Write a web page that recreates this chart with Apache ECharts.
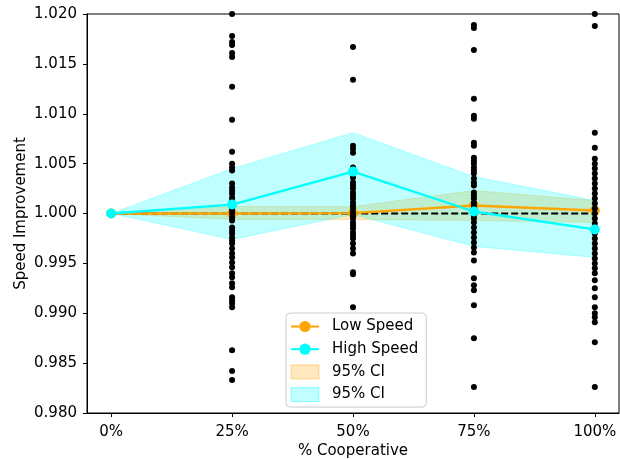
<!DOCTYPE html>
<html>
<head>
<meta charset="utf-8">
<script src="https://cdn.jsdelivr.net/npm/echarts@6/dist/echarts.min.js"></script>
<style>
  html, body { margin: 0; padding: 0; background: #fff; }
  #chart { width: 620px; height: 459px; }
</style>
</head>
<body>
<div id="chart"></div>
<script>
// x categories
const cats = ['0%', '25%', '50%', '75%', '100%'];

// mean lines
const lowSpeed = [1.0000, 1.0000, 1.00003, 1.0008, 1.0003];
const highSpeed = [1.0000, 1.0009, 1.0042, 1.0002, 0.9984];

// 95% CI bounds
const lowLo = [1.0000, 0.9994, 0.9994, 0.9993, 0.9991];
const lowHi = [1.0000, 1.0007, 1.0007, 1.0023, 1.0013];
const highLo = [1.0000, 0.9974, 0.9999, 0.9967, 0.9956];
const highHi = [1.0000, 1.0045, 1.0081, 1.0037, 1.0013];

// individual runs
const trials25 = [1.0200, 1.0178, 1.0172, 1.0169, 1.0161, 1.0157, 1.0127, 1.0094, 1.0062, 1.0050,
  1.0046, 1.0043, 1.0030, 1.0026, 1.0023, 1.0020, 1.0016, 1.0013, 1.0010, 1.0006, 1.0003, 1.0000,
  0.9996, 0.9993, 0.9986, 0.9983, 0.9980, 0.9976, 0.9973, 0.9970, 0.9965, 0.9960, 0.9956, 0.9951,
  0.9946, 0.9940, 0.9936, 0.9930, 0.9926, 0.9916, 0.9913, 0.9910, 0.9906, 0.9863, 0.9842, 0.9833];
const trials50 = [1.0167, 1.0134, 1.0068, 1.0065, 1.0061, 1.0046, 1.0041, 1.0036, 1.0031, 1.0028,
  1.0025, 1.0021, 1.0018, 1.0015, 1.0011, 1.0008, 1.0005, 1.0001, 0.9998, 0.9995, 0.9991, 0.9988,
  0.9985, 0.9981, 0.9978, 0.9975, 0.9970, 0.9965, 0.9960, 0.9941, 0.9939, 0.9906];
const trials75 = [1.0189, 1.0186, 1.0164, 1.0115, 1.0098, 1.0095, 1.0071, 1.0068, 1.0056, 1.0053,
  1.0050, 1.0046, 1.0043, 1.0040, 1.0035, 1.0031, 1.0028, 1.0021, 1.0018, 1.0015, 1.0011, 1.0008,
  1.0005, 1.0001, 0.9998, 0.9995, 0.9991, 0.9986, 0.9981, 0.9976, 0.9971, 0.9966, 0.9961, 0.9953,
  0.9935, 0.9928, 0.9923, 0.9908, 0.9875, 0.9826];
const trials100 = [1.0200, 1.0188, 1.0081, 1.0066, 1.0055, 1.0050, 1.0045, 1.0040, 1.0035, 1.0030,
  1.0025, 1.0020, 1.0015, 1.0010, 1.0005, 1.0000, 0.9995, 0.9990, 0.9985, 0.9980, 0.9975, 0.9970,
  0.9965, 0.9960, 0.9955, 0.9950, 0.9945, 0.9940, 0.9933, 0.9925, 0.9916, 0.9906, 0.9900, 0.9896,
  0.9891, 0.9871, 0.9826];
const baseline = [1.0, 1.0];

const FONT = 'DejaVu Sans';
const FS = 15;
const ORANGE = '#ffa500';
const CYAN = '#00ffff';
const ORANGE_FILL = 'rgba(255,165,0,0.25)';
const CYAN_FILL = 'rgba(0,255,255,0.25)';

const trialCols = [trials25, trials50, trials75, trials100];
let scatterData = [];
trialCols.forEach(function (col, k) {
  col.forEach(function (v) { scatterData.push([k + 1, v]); });
});

function toXY(arr) {
  return arr.map(function (v, i) { return [i, v]; });
}

// filled CI band between lo and hi
function band(name, lo, hi, color) {
  return {
    type: 'custom',
    name: name,
    z: 1,
    silent: true,
    itemStyle: { color: color },
    data: [[0, lo[0]]],
    renderItem: function (params, api) {
      let top = hi.map(function (v, i) { return api.coord([i, v]); });
      let bot = lo.map(function (v, i) { return api.coord([i, v]); }).reverse();
      return {
        type: 'polygon',
        shape: { points: top.concat(bot) },
        style: { fill: color, stroke: color, lineWidth: 1 }
      };
    }
  };
}

const chart = echarts.init(document.getElementById('chart'));
chart.setOption({
  animation: false,
  backgroundColor: '#fff',
  textStyle: { fontFamily: FONT },
  grid: {
    left: 87, right: 1, top: 14, bottom: 46,
    outerBoundsMode: 'none',
    containLabel: false,
    show: true, borderColor: '#000', borderWidth: 1, backgroundColor: 'transparent'
  },
  xAxis: {
    type: 'value',
    min: -0.2,
    max: 4.2,
    name: '% Cooperative',
    nameLocation: 'middle',
    nameGap: 31,
    nameMoveOverlap: false,
    nameTextStyle: { fontSize: FS, color: '#000', fontFamily: FONT },
    axisLine: { onZero: false, lineStyle: { color: '#000', width: 1 } },
    axisTick: { customValues: [0, 1, 2, 3, 4], length: 4, lineStyle: { color: '#000' } },
    axisLabel: {
      customValues: [0, 1, 2, 3, 4],
      formatter: function (v) { return cats[Math.round(v)]; },
      fontSize: FS, color: '#000', margin: 12, fontFamily: FONT
    },
    splitLine: { show: false }
  },
  yAxis: {
    type: 'value',
    min: 0.98,
    max: 1.02,
    interval: 0.005,
    name: 'Speed Improvement',
    nameLocation: 'middle',
    nameGap: 58,
    nameMoveOverlap: false,
    nameTextStyle: { fontSize: FS, color: '#000', fontFamily: FONT },
    axisLine: { show: true, onZero: false, lineStyle: { color: '#000', width: 1 } },
    axisTick: { show: true, length: 4, lineStyle: { color: '#000' } },
    axisLabel: {
      formatter: function (v) { return v.toFixed(3); },
      fontSize: FS, color: '#000', margin: 10, fontFamily: FONT
    },
    splitLine: { show: false }
  },
  legend: {
    orient: 'vertical',
    left: 286,
    top: 313,
    padding: [6, 8, 5, 4],
    itemGap: 7.7,
    itemWidth: 28,
    itemHeight: 14,
    backgroundColor: 'rgba(255,255,255,0.8)',
    borderColor: '#cccccc',
    borderWidth: 1,
    borderRadius: 4,
    textStyle: { fontSize: FS, color: '#000', fontFamily: FONT, padding: [0, 0, 0, 8] },
    data: [
      { name: 'Low Speed' },
      { name: 'High Speed' },
      { name: '95% CI', icon: 'rect', itemStyle: { color: ORANGE_FILL, borderColor: 'rgba(255,165,0,0.4)', borderWidth: 1 } },
      { name: '95% CI ', icon: 'rect', itemStyle: { color: CYAN_FILL, borderColor: 'rgba(0,255,255,0.4)', borderWidth: 1 } }
    ]
  },
  series: [
    band('95% CI', lowLo, lowHi, ORANGE_FILL),
    band('95% CI ', highLo, highHi, CYAN_FILL),
    {
      type: 'line',
      name: 'baseline',
      z: 2,
      silent: true,
      showSymbol: false,
      data: [[0, baseline[0]], [4, baseline[1]]],
      lineStyle: { color: '#000', width: 2, type: [7, 3] }
    },
    {
      type: 'line',
      name: 'Low Speed',
      z: 3,
      symbol: 'circle',
      symbolSize: 10,
      data: toXY(lowSpeed),
      itemStyle: { color: ORANGE },
      lineStyle: { color: ORANGE, width: 2.3 }
    },
    {
      type: 'scatter',
      name: 'runs',
      z: 4,
      clip: true,
      symbolSize: 6,
      data: scatterData,
      itemStyle: { color: '#000', opacity: 1 }
    },
    {
      type: 'line',
      name: 'High Speed',
      z: 5,
      symbol: 'circle',
      symbolSize: 10,
      data: toXY(highSpeed),
      itemStyle: { color: CYAN },
      lineStyle: { color: CYAN, width: 2.3 }
    }
  ]
});
</script>
</body>
</html>
